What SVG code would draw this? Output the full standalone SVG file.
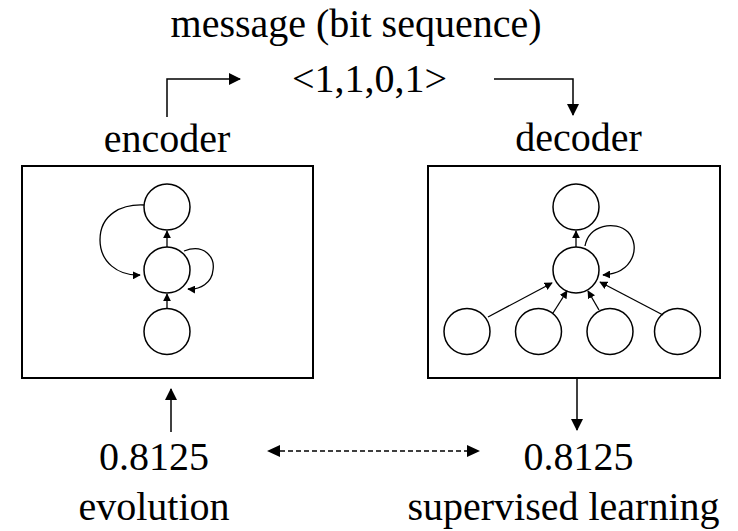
<svg xmlns="http://www.w3.org/2000/svg" width="738" height="531" viewBox="0 0 738 531">
<style>
text{font-family:"Liberation Serif","Times New Roman",serif;font-size:40px;fill:#000;text-anchor:middle}
.box{fill:#fff;stroke:#000;stroke-width:2}
.n{fill:#fff;stroke:#000;stroke-width:1.5}
.ea{fill:none;stroke:#000;stroke-width:1.5;marker-end:url(#ah)}
.es{fill:none;stroke:#000;stroke-width:1.3;marker-end:url(#sh)}
</style>
<defs>
<marker id="ah" viewBox="0 0 12 12" refX="11" refY="6" markerWidth="13" markerHeight="12" markerUnits="userSpaceOnUse" orient="auto"><path d="M0,0 L12,6 L0,12 z" fill="#000"/></marker>
<marker id="sh" viewBox="0 0 10 10" refX="9" refY="5" markerWidth="8" markerHeight="8" markerUnits="userSpaceOnUse" orient="auto"><path d="M0,0 L10,5 L0,10 z" fill="#000"/></marker>
</defs>
<rect width="738" height="531" fill="#fff"/>
<g id="labels">
<text x="356" y="37">message (bit sequence)</text>
<text x="369.5" y="92">&lt;1,1,0,1&gt;</text>
<text x="167" y="152">encoder</text>
<text x="578.5" y="151">decoder</text>
<text x="154" y="470">0.8125</text>
<text x="578.5" y="470">0.8125</text>
<text x="154" y="520">evolution</text>
<text x="563.5" y="520">supervised learning</text>
</g>
<g id="encoder">
<rect class="box" x="22" y="166" width="291" height="212"/>
<circle class="n" cx="167" cy="207" r="23"/>
<circle class="n" cx="167" cy="270" r="23"/>
<circle class="n" cx="167" cy="331.5" r="23"/>
</g>
<g id="decoder">
<rect class="box" x="428" y="166" width="292" height="212"/>
<circle class="n" cx="576" cy="207" r="23"/>
<circle class="n" cx="576" cy="270" r="23"/>
<circle class="n" cx="467" cy="331.5" r="23"/>
<circle class="n" cx="538.5" cy="331.5" r="23"/>
<circle class="n" cx="610" cy="331.5" r="23"/>
<circle class="n" cx="677.5" cy="331.5" r="23"/>
</g>
<g id="connectors">
<path class="ea" d="M167,117 V79 H240"/>
<path class="ea" d="M494,79 H573 V115"/>
<path class="ea" d="M171,432 V389"/>
<path class="ea" d="M577,379 V430"/>
<path d="M280,451 H468" stroke="#000" stroke-width="1.3" stroke-dasharray="5,3" fill="none"/>
<path d="M267,451 l13,-6 v12 z M480,451 l-13,-6 v12 z" fill="#000"/>
<path class="es" d="M167,247 V231"/>
<path class="es" d="M167,309 V294"/>
<path class="es" d="M144,205 C122,204 100,214 100,240 C100,262 118,276 140,275"/>
<path class="es" d="M184,251 C205,243 215,258 213,270 C212,283 200,290 188,289"/>
<path class="es" d="M576,247 V231"/>
<path class="es" d="M585,246 C589,225 615,220 628,232 C641,246 634,273 603,275"/>
<path class="es" d="M488,317 L552,283"/>
<path class="es" d="M553,313 L567,291"/>
<path class="es" d="M599,310 L588,291"/>
<path class="es" d="M663,315 L600,282"/>
</g>
</svg>
